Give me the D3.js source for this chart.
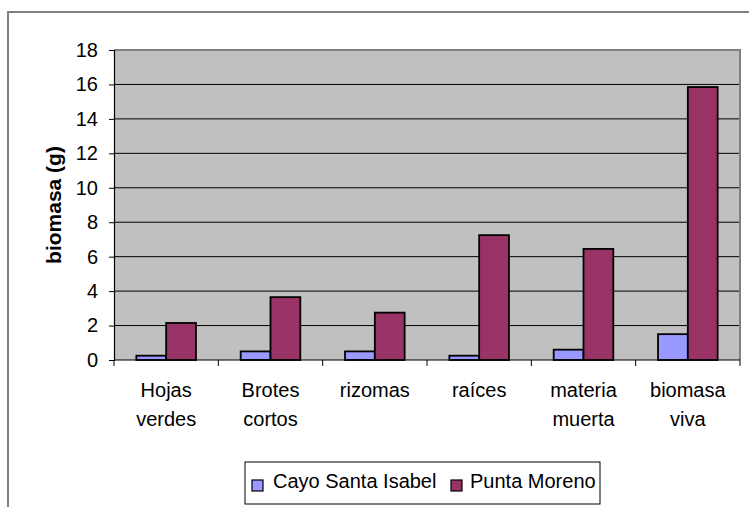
<!DOCTYPE html>
<html>
<head>
<meta charset="utf-8">
<script src="https://cdn.jsdelivr.net/npm/d3@7"></script>
<style>
  html, body { margin: 0; padding: 0; background: #fff; }
  svg { display: block; font-family: "Liberation Sans", Arial, sans-serif; }
</style>
</head>
<body>
<svg id="chart" width="749" height="507"></svg>
<script>
// Biomass per component at two sites
const categories = [["Hojas", "verdes"], ["Brotes", "cortos"], ["rizomas"], ["raíces"], ["materia", "muerta"], ["biomasa", "viva"]];
const seriesNames = ["Cayo Santa Isabel", "Punta Moreno"];
const cayoSantaIsabel = [0.25, 0.5, 0.5, 0.25, 0.6, 1.5];
const puntaMoreno = [2.15, 3.65, 2.75, 7.25, 6.45, 15.85];
const yTicks = [0, 2, 4, 6, 8, 10, 12, 14, 16, 18];
const colors = ["#9999FF", "#993366"];

const svg = d3.select("#chart");
const plot = { left: 114, right: 740, top: 50, bottom: 360 };

// outer chart frame (top and left edges visible)
svg.append("path")
  .attr("d", "M8,507 V12 H749")
  .attr("fill", "none").attr("stroke", "#808080").attr("stroke-width", 2);

const x = d3.scaleBand()
  .domain(d3.range(categories.length))
  .range([plot.left, plot.right])
  .paddingInner(0).paddingOuter(0);

const y = d3.scaleLinear().domain([0, 18]).range([plot.bottom, plot.top]);

// plot background
svg.append("rect")
  .attr("x", plot.left).attr("y", plot.top)
  .attr("width", plot.right - plot.left).attr("height", plot.bottom - plot.top)
  .attr("fill", "#C0C0C0");

// horizontal gridlines
svg.append("g").selectAll("line")
  .data(yTicks.filter(t => t > 0 && t < 18))
  .join("line")
  .attr("x1", plot.left).attr("x2", plot.right)
  .attr("y1", d => y(d)).attr("y2", d => y(d))
  .attr("stroke", "#000").attr("stroke-width", 1);

// plot frame: grey top and right
svg.append("path")
  .attr("d", `M${plot.left},${plot.top} H${plot.right} V${plot.bottom}`)
  .attr("fill", "none").attr("stroke", "#808080").attr("stroke-width", 2);

// bars: gap width 150% of a bar
const bw = x.bandwidth() / 3.5;
const series = [cayoSantaIsabel, puntaMoreno];
const inner = d3.scaleBand().domain([0, 1]).range([0.75 * bw, 2.75 * bw]);

series.forEach((vals, si) => {
  svg.append("g").selectAll("rect")
    .data(vals)
    .join("rect")
    .attr("x", (d, i) => x(i) + inner(si))
    .attr("y", d => y(d))
    .attr("width", inner.bandwidth())
    .attr("height", d => y(0) - y(d))
    .attr("fill", colors[si])
    .attr("stroke", "#000").attr("stroke-width", 1.8);
});

// y axis
const yAxis = d3.axisLeft(y).tickValues(yTicks).tickSize(5).tickPadding(11).tickFormat(d3.format("d"));
const gy = svg.append("g").attr("transform", `translate(${plot.left},0)`).call(yAxis);
gy.select(".domain").attr("stroke", "#000").attr("stroke-width", 1.2);
gy.selectAll(".tick line").attr("stroke", "#000");
gy.selectAll("text").attr("font-size", 20).attr("fill", "#000")
  .attr("font-family", "Liberation Sans, Arial, sans-serif");

// x axis with ticks at category boundaries
const gx = svg.append("g").attr("transform", `translate(0,${plot.bottom})`);
gx.append("line").attr("x1", plot.left).attr("x2", plot.right)
  .attr("stroke", "#000").attr("stroke-width", 1.2);
gx.selectAll("line.tk")
  .data(d3.range(categories.length + 1))
  .join("line").attr("class", "tk")
  .attr("x1", i => plot.left + i * x.step()).attr("x2", i => plot.left + i * x.step())
  .attr("y1", 0).attr("y2", 6).attr("stroke", "#000");

const labels = svg.append("g").selectAll("text")
  .data(categories)
  .join("text")
  .attr("text-anchor", "middle")
  .attr("font-size", 20)
  .attr("fill", "#000");
labels.each(function(lines, i) {
  d3.select(this).selectAll("tspan")
    .data(lines)
    .join("tspan")
    .attr("x", x(i) + x.bandwidth() / 2)
    .attr("y", (d, k) => 397 + k * 28.5)
    .text(d => d);
});

// y axis title
svg.append("text")
  .attr("transform", `translate(61,${(plot.top + plot.bottom) / 2}) rotate(-90)`)
  .attr("text-anchor", "middle")
  .attr("font-size", 21).attr("font-weight", "bold")
  .text("biomasa (g)");

// legend
const lg = svg.append("g");
lg.append("rect").attr("x", 245).attr("y", 462).attr("width", 355).attr("height", 42)
  .attr("fill", "#fff").attr("stroke", "#000").attr("stroke-width", 1);
const legendItems = [{ sx: 252, tx: 273 }, { sx: 451, tx: 470 }];
legendItems.forEach((p, i) => {
  lg.append("rect").attr("x", p.sx).attr("y", 480).attr("width", 11).attr("height", 11)
    .attr("fill", colors[i]).attr("stroke", "#000").attr("stroke-width", 1.2);
  lg.append("text").attr("x", p.tx).attr("y", 488).attr("font-size", 20)
    .text(seriesNames[i]);
});
</script>
</body>
</html>
